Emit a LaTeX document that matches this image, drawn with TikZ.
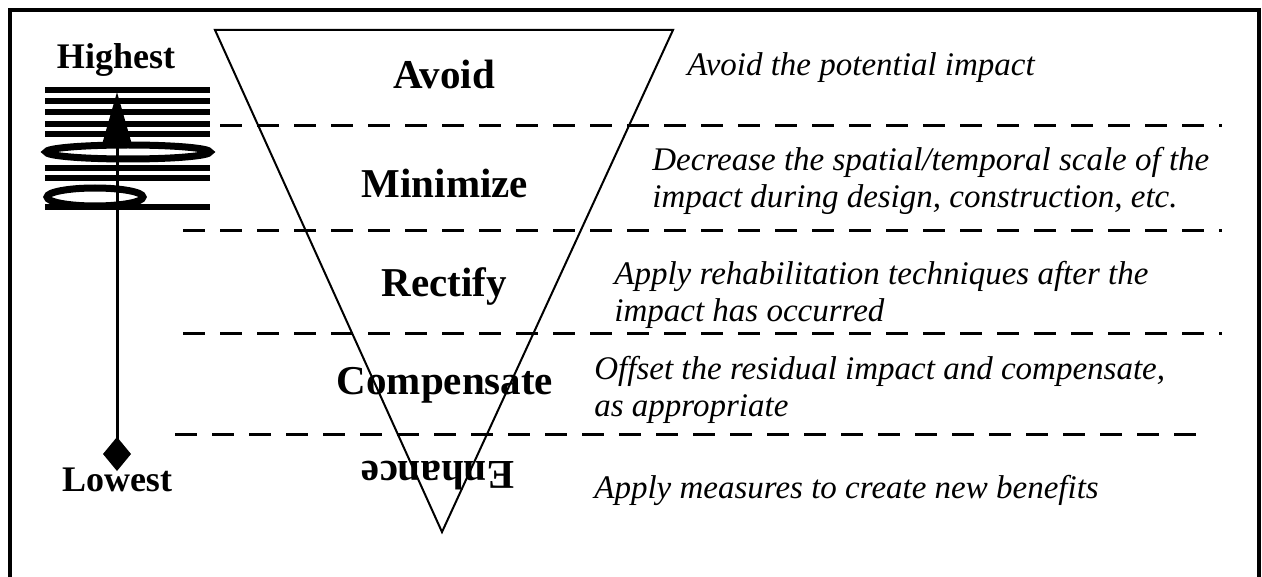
\documentclass[tikz,border=0pt]{standalone}
\usepackage{fontspec}
\setmainfont{Liberation Serif}
\usetikzlibrary{arrows.meta}
\begin{document}
\begin{tikzpicture}[x=0.5pt,y=-0.5pt,
  head/.style={font=\fontsize{20.5}{24}\selectfont\bfseries,inner sep=0pt},
  rank/.style={font=\fontsize{18}{22}\selectfont\bfseries,inner sep=0pt},
  desc/.style={font=\fontsize{16.5}{18.5}\selectfont\itshape,align=left,anchor=west,inner sep=0pt},
  sep/.style={line width=1.5pt,dash pattern=on 11pt off 7.5pt}]
\useasboundingbox (0,0) rectangle (1262,577);
\draw[line width=1.8pt] (10,577) -- (10,10) -- (1259,10) -- (1259,577);
% inverted triangle
\draw[line width=1pt] (215,30) -- (673,30) -- (442,532) -- cycle;
% separators
\draw[sep] (220,126) -- (1222,126);
\draw[sep] (183,231) -- (1222,231);
\draw[sep] (183,333) -- (1222,333);
\draw[sep] (175,434) -- (1208,434);
% levels
\node[head] (avoid) at (444,74) {Avoid};
\node[head] (minimize) at (445,183) {Minimize};
\node[head] (rectify) at (444,286) {Rectify};
\node[head] (compensate) at (445,385) {Compensate};
\node[head,rotate=180] (enhance) at (438,476) {Enhance};
% descriptions
\node[desc] (avoidtxt) at (687,68) {Avoid the potential impact};
\node[desc] (minimizetxt) at (652,181) {Decrease the spatial/temporal scale of the\\impact during design, construction, etc.};
\node[desc] (rectifytxt) at (614,295) {Apply rehabilitation techniques after the\\impact has occurred};
\node[desc] (compensatetxt) at (594,390) {Offset the residual impact and compensate,\\as appropriate};
\node[desc] (enhancetxt) at (594,490) {Apply measures to create new benefits};
% preference scale
\node[rank] (highest) at (116,60) {Highest};
\node[rank] (lowest) at (117,480) {Lowest};
\foreach \y in {90,101,112,124,134,168,178,207}
  \draw[line width=3pt] (45,\y) -- (210,\y);
\draw[line width=3.5pt] (128,152) ellipse [x radius=82,y radius=7];
\draw[line width=3.5pt] (95,197) ellipse [x radius=48,y radius=9];
\coordinate (low) at (117,471);
\coordinate (high) at (117,92);
\draw[line width=1.5pt,{Diamond[length=17pt,width=14pt]}-{Triangle[length=27pt,width=15pt]}] (low) -- (high);
\end{tikzpicture}
\end{document}
